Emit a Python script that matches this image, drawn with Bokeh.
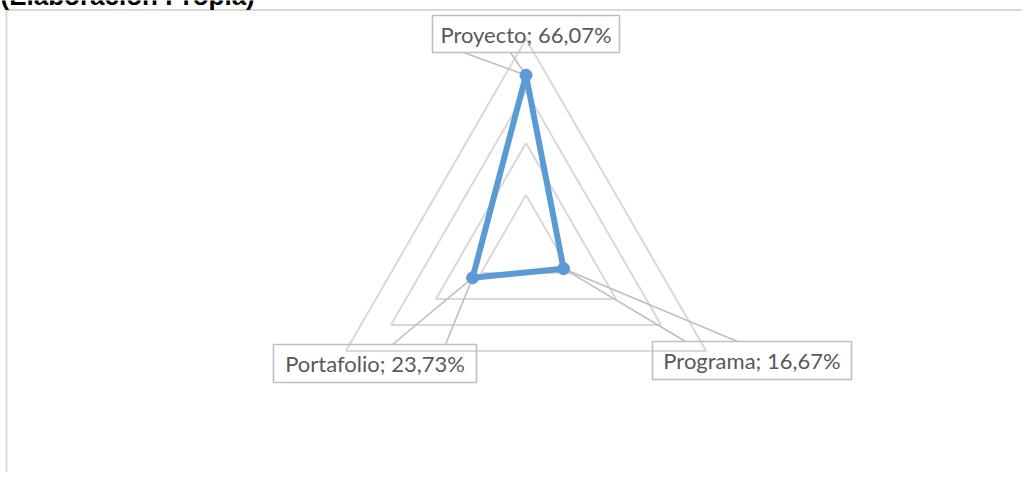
import math
from bokeh.plotting import figure
from bokeh.models import Range1d
from bokeh.core.properties import value
from bokeh.embed import file_html
from bokeh.resources import INLINE

# ---- data ----
categories = ["Proyecto", "Programa", "Portafolio"]
values = [66.07, 16.67, 23.73]
value_labels = ["66,07%", "16,67%", "23,73%"]
angles_deg = [90, -30, 210]
grid_levels = [20, 40, 60, 80]
title_text = "(Elaboración Propia)"

# ---- layout (screen px) ----
W, H = 1022, 472
CX, CY, K = 525.5, 246.5, 2.6  # centre of radar and px per percent

def ux(px):
    return (px - CX) / K

def vy(py):
    return (CY - py) / K

# label boxes: left, top, right, bottom (px) and leader-line end points
boxes = {
    "Proyecto": (432, 15, 619, 52),
    "Programa": (652, 341, 851, 379),
    "Portafolio": (273, 344, 476, 382),
}
leader_ends = {
    "Proyecto": [(463, 52), (510, 52)],
    "Programa": [(685, 341), (737, 341)],
    "Portafolio": [(392, 344), (445, 344)],
}

p = figure(width=W, height=H, output_backend="svg", toolbar_location=None,
           x_range=Range1d(ux(0), ux(W)), y_range=Range1d(vy(H), vy(0)),
           x_axis_type=None, y_axis_type=None, min_border=0,
           outline_line_color=None, background_fill_color="white",
           border_fill_color="white")
p.grid.visible = False

# chart area frame
p.quad(left=ux(6), right=ux(1060), top=vy(9.5), bottom=vy(520),
       fill_color=None, line_color="#D9D9D9", line_width=2)

# title (cut off at top as in the source)
p.text(x=[ux(0)], y=[vy(-5)], text=[title_text], text_font=value("Liberation Sans"),
       text_font_style="bold", text_font_size="26px", text_color="#000000",
       text_align="left", text_baseline="alphabetic")

# radar grid
rad = [math.radians(a) for a in angles_deg]
gxs, gys = [], []
for lv in grid_levels:
    xs = [lv * math.cos(a) for a in rad]
    ys = [lv * math.sin(a) for a in rad]
    gxs.append(xs + xs[:1])
    gys.append(ys + ys[:1])
p.multi_line(xs=gxs, ys=gys, line_color="#D9D9D9", line_width=2)

# data points
px_ = [v * math.cos(a) for v, a in zip(values, rad)]
py_ = [v * math.sin(a) for v, a in zip(values, rad)]

# leader lines
lxs, lys = [], []
for cat, x0, y0 in zip(categories, px_, py_):
    for (ex, ey) in leader_ends[cat]:
        lxs.append([x0, ux(ex)])
        lys.append([y0, vy(ey)])
p.multi_line(xs=lxs, ys=lys, line_color="#BFBFBF", line_width=1.6)

# series
p.line(x=px_ + px_[:1], y=py_ + py_[:1], line_color="#5B9BD5", line_width=6,
       line_join="round")
p.scatter(x=px_, y=py_, size=12, fill_color="#5B9BD5", line_color="#5B9BD5")

# data label boxes and texts
bl, br, bt, bb, tx, ty, tt = [], [], [], [], [], [], []
for cat, lab in zip(categories, value_labels):
    l, t, r, b = boxes[cat]
    bl.append(ux(l)); br.append(ux(r)); bt.append(vy(t)); bb.append(vy(b))
    tx.append(ux((l + r) / 2)); ty.append(vy((t + b) / 2))
    tt.append(f"{cat}; {lab}")
p.quad(left=bl, right=br, top=bt, bottom=bb, fill_color=None,
       line_color="#BFBFBF", line_width=1.6)
p.text(x=tx, y=ty, text=tt, text_font=value("Lato"), text_font_size="22px",
       text_color="#595959", text_align="center", text_baseline="middle")

open("out.html", "w").write(file_html(p, INLINE))
